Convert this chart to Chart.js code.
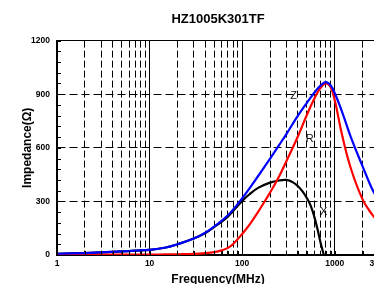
<!DOCTYPE html>
<html><head><meta charset="utf-8">
<script src="https://cdn.jsdelivr.net/npm/chart.js@4/dist/chart.umd.min.js"></script>
<style>
html,body{margin:0;padding:0;overflow:hidden;background:#fff;width:374px;height:284px;}
#wrap{position:relative;width:420px;height:290px;}
canvas{display:block;}
</style></head><body>
<div id="wrap"><canvas id="c" width="420" height="290"></canvas></div>
<script>
// ---- data (frequency in MHz, impedance in ohm) ----
const freqZ = [1,2,3,5,7,10,15,20,30,40,50,70,100,150,200,250,300,400,500,600,700,800,900,1000,1200,1500,2000,2500,3000];
const zValues = [7,11,15,20,24,29,42,60,92,125,160,222,318,445,540,615,677,780,852,908,948,968,950,905,800,655,495,375,300];
const freqR = [1,2,3,5,7,10,15,20,30,40,50,60,70,80,100,120,150,200,250,300,400,500,600,700,800,900,1000,1200,1500,2000,2500,3000];
const rValues = [2,2,2,2,2,2,3,4,6,10,16,26,40,62,118,170,245,350,440,525,665,785,875,935,960,940,865,670,480,310,230,180];
const freqX = [1,2,3,5,7,10,15,20,30,40,50,70,100,120,150,200,250,300,350,400,450,500,550,600,650,700,760];
const xValues = [7,11,15,20,24,29,42,60,92,123,157,215,303,340,377,405,417,420,408,385,355,318,275,215,145,72,0];

const xTickValues = [1,2,3,4,5,6,7,8,9,10,20,30,40,50,60,70,80,90,100,200,300,400,500,600,700,800,900,1000,2000,3000];
const xTickLabels = [1,10,100,1000,3000];
const yTickLabels = [0,300,600,900,1200];

const curveNames = ['Z','R','X'];
const curveNameFreq = [360,536,759];
const curveNameImp = [888,648,240];

Chart.defaults.font.family = "'Liberation Sans', Arial, sans-serif";
Chart.defaults.color = '#000';

const toPts = (fs, vs) => fs.map((f, i) => ({x: f, y: vs[i]}));
const isDecade = v => Math.abs(Math.log10(v) - Math.round(Math.log10(v))) < 1e-9;

const extras = {
  id: 'extras',
  afterDatasetsDraw(chart) {
    const {ctx, scales: {x, y}, chartArea} = chart;
    ctx.save();
    ctx.strokeStyle = '#000';
    ctx.lineWidth = 1;
    ctx.beginPath();
    y.ticks.forEach(t => {
      const py = Math.round(y.getPixelForValue(t.value)) + 0.5;
      ctx.moveTo(chartArea.left, py); ctx.lineTo(chartArea.left + 4, py);
    });
    x.ticks.forEach(t => {
      const px = Math.round(x.getPixelForValue(t.value)) + 0.5;
      ctx.moveTo(px, chartArea.bottom); ctx.lineTo(px, chartArea.bottom - 4);
    });
    ctx.stroke();
    ctx.fillStyle = '#111';
    ctx.font = "11px 'Liberation Sans', Arial, sans-serif";
    ctx.textAlign = 'center';
    ctx.textBaseline = 'middle';
    curveNames.forEach((n, i) => {
      ctx.fillText(n, x.getPixelForValue(curveNameFreq[i]), y.getPixelForValue(curveNameImp[i]));
    });
    ctx.restore();
  }
};

const lineStyle = {borderWidth: 2.2, pointRadius: 0, tension: 0.4, fill: false};

new Chart(document.getElementById('c'), {
  type: 'line',
  data: {
    datasets: [
      Object.assign({label: 'Z', data: toPts(freqZ, zValues), borderColor: '#0000ff'}, lineStyle),
      Object.assign({label: 'R', data: toPts(freqR, rValues), borderColor: '#ff0000'}, lineStyle),
      Object.assign({label: 'X', data: toPts(freqX, xValues), borderColor: '#000000'}, lineStyle)
    ]
  },
  options: {
    responsive: false,
    animation: false,
    devicePixelRatio: 1,
    layout: {padding: {left: 0, right: 41, top: 0, bottom: 0}},
    plugins: {
      legend: {display: false},
      tooltip: {enabled: false},
      title: {
        display: true, text: 'HZ1005K301TF', fullSize: false, color: '#000',
        font: {size: 13, weight: 'bold'}, padding: {top: 12, bottom: 13}
      }
    },
    scales: {
      x: {
        type: 'logarithmic', min: 1, max: 3000,
        afterBuildTicks: s => { s.ticks = xTickValues.map(v => ({value: v})); },
        afterFit: s => { s.height = 35; },
        ticks: {
          autoSkip: false, maxRotation: 0, minRotation: 0, padding: 4, color: '#000',
          font: {size: 8.5, weight: 'bold'},
          callback: v => xTickLabels.includes(v) ? String(v) : ''
        },
        grid: {color: '#000', lineWidth: 1, drawTicks: false},
        border: {display: true, color: '#000', width: 2,
          dash: c => (c.tick && !isDecade(c.tick.value)) ? [7, 3] : []},
        title: {display: true, text: 'Frequency(MHz)', color: '#000',
          font: {size: 12, weight: 'bold'}, padding: {top: 0, bottom: 3.5}}
      },
      y: {
        type: 'linear', min: 0, max: 1200,
        afterFit: s => { s.width = 57; },
        ticks: {
          stepSize: 60, autoSkip: false, padding: 7, color: '#000',
          font: {size: 8.5, weight: 'bold'},
          callback: v => yTickLabels.includes(v) ? String(v) : ''
        },
        grid: {color: c => (c.tick && yTickLabels.includes(c.tick.value)) ? '#000' : 'rgba(0,0,0,0)',
          lineWidth: 1, drawTicks: false},
        border: {display: true, color: '#000', width: 1.5,
          dash: c => (c.tick && c.tick.value > 0 && c.tick.value < 1200) ? [8, 4] : []},
        title: {display: true, text: 'Impedance(Ω)', color: '#000',
          font: {size: 12, weight: 'bold'}, padding: {top: 20, bottom: 0}}
      }
    }
  },
  plugins: [extras]
});
</script>
</body></html>
